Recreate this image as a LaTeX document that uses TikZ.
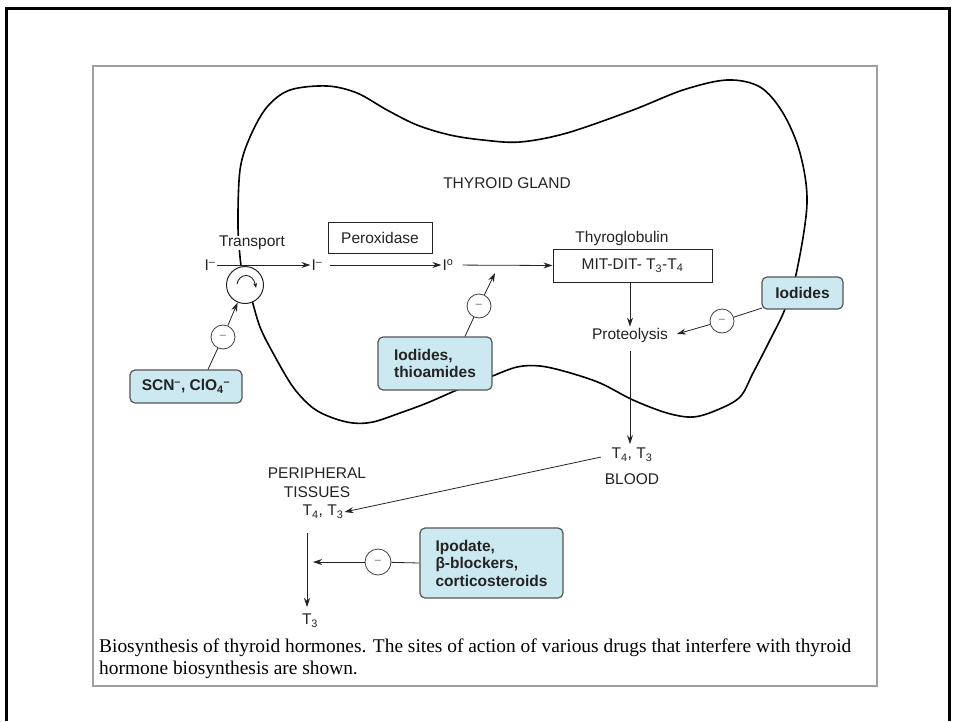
\documentclass[tikz,border=0pt]{standalone}
\usepackage{fontspec}
\setmainfont{Liberation Sans}
\newfontfamily\capfont{Liberation Serif}
\usetikzlibrary{arrows.meta}
\definecolor{boxblue}{RGB}{204,232,240}
\definecolor{edgegray}{RGB}{85,85,85}
\definecolor{framegray}{RGB}{160,160,160}
\definecolor{ink}{RGB}{35,35,35}
\begin{document}
\begin{tikzpicture}[x=1pt,y=-1pt,
  lbl/.style={font=\fontsize{15.5}{19}\selectfont, inner sep=1pt, text=ink},
  drug/.style={draw=edgegray, line width=1.2pt, fill=boxblue, rounded corners=5pt,
    font=\fontsize{15.5}{17.5}\selectfont\bfseries, align=left, inner sep=0pt, text=ink},
  plainbox/.style={draw=ink, line width=1pt, fill=white, inner sep=0pt, font=\fontsize{15.5}{19}\selectfont, text=ink},
  inh/.style={circle, draw=black!75, fill=white, line width=0.8pt, minimum size=24pt, inner sep=0pt,
    font=\fontsize{11}{11}\selectfont, text=black!60},
  arr/.style={-{Stealth[length=9pt,width=6pt]}, line width=0.8pt, draw=ink},
  ln/.style={line width=0.8pt, draw=ink}]
\useasboundingbox (0,0) rectangle (953,721);
% outer frame
\draw[line width=3pt] (6.5,721) -- (6.5,8.7) -- (949.5,8.7) -- (949.5,721);
% inner frame
\draw[framegray, line width=1.5pt] (93,66) rectangle (877,686);
% thyroid gland outline
\draw[line width=1.6pt] plot[smooth, tension=0.55] coordinates {
 (241,266) (238,227) (240,170) (250,137) (267,107) (290,90) (327,86) (357,93) (387,110)
 (417,125) (450,135) (483,140) (520,142) (567,133) (633,110) (683,90) (727,80) (760,87)
 (783,113) (800,153) (807,203) (797,270) (785,309) (770,340) (753,373) (740,397) (717,410)
 (693,417) (667,413) (633,400) (600,383) (567,372) (540,366) (517,367) (490,377) (457,390)
 (427,403) (400,413) (373,422) (353,423) (333,418) (313,408) (293,387) (273,353) (260,327) (252,300)};
\node[lbl] (gland) at (507,183) {THYROID GLAND};
% transport
\node[lbl, fill=white, inner sep=0.5pt] (transport) at (252,243) {Transport};
\node[circle, draw=ink, line width=1pt, fill=white, minimum size=37pt, inner sep=0pt] (tc) at (245,285) {};
\draw[-{Stealth[length=5pt,width=4pt]}, line width=0.9pt, ink] (237,284) .. controls (239,273) and (253,272) .. (256,288);
\node[lbl] (i1) at (210,265) {I\textsuperscript{–}};
\node[lbl] (i2) at (317,265) {I\textsuperscript{–}};
\node[lbl] (i3) at (448,265) {I\textsuperscript{o}};
\node[plainbox, minimum width=104pt, minimum height=31pt] (perox) at (380,237.5) {Peroxidase};
\node[lbl] (thyrog) at (622,238) {Thyroglobulin};
\node[plainbox, minimum width=159pt, minimum height=33pt] (mit) at (632.5,265.5) {MIT-DIT- T\textsubscript{3}-T\textsubscript{4}};
\draw[arr] (i1) -- (i2);
\draw[arr, shorten <=6pt] (i2) -- (i3);
\draw[arr, shorten <=8pt] (i3) -- (mit.west);
% proteolysis
\node[lbl] (prot) at (630,335) {Proteolysis};
\draw[arr] (mit.south -| prot) -- (prot.north);
\node[lbl] (t4b) at (632,455) {T\textsubscript{4}, T\textsubscript{3}};
\node[lbl] (blood) at (632,479) {BLOOD};
\draw[arr, shorten <=8pt, shorten >=3pt] (prot.south) -- (prot.south |- t4b.north);
% drug boxes
\node[drug, minimum width=112pt, minimum height=33pt] (scn) at (186,386.5) {SCN\textsuperscript{–}, ClO\textsubscript{4}\textsuperscript{–}};
\node[inh] (c1) at (223,337) {–};
\draw[ln] ([xshift=22pt]scn.north) -- (c1);
\draw[arr] (c1) -- (tc);
\node[drug, minimum width=114pt, minimum height=53pt] (iot) at (435,363.5) {Iodides,\\thioamides};
\node[inh] (c2) at (479,306) {–};
\coordinate (t2) at (495,273);
\draw[ln] ([xshift=30pt]iot.north) -- (c2);
\draw[arr] (c2) -- (t2);
\node[drug, minimum width=81pt, minimum height=32pt] (iod) at (802.5,293) {Iodides};
\node[inh] (c3) at (722,321) {–};
\coordinate (t3) at (677,334);
\draw[ln] (762,308) -- (c3);
\draw[arr] (c3) -- (t3);
% periphery
\node[lbl, align=center] (periph) at (317,483) {PERIPHERAL\\TISSUES};
\node[lbl] (t4p) at (323,512) {T\textsubscript{4}, T\textsubscript{3}};
\draw[arr, shorten <=10pt] (t4b.west) -- (t4p.east);
\node[lbl] (t3p) at (310,621) {T\textsubscript{3}};
\coordinate (vtop) at (307,533);
\coordinate (vbot) at (307,607);
\draw[arr] (vtop) -- (vbot);
\node[drug, minimum width=143pt, minimum height=70pt] (ipo) at (491.5,563) {Ipodate,\\β-blockers,\\corticosteroids};
\node[inh, minimum size=26pt] (c4) at (378,562) {–};
\coordinate (vmid) at (313,562);
\draw[ln] (ipo.west) -- (c4);
\draw[arr] (c4) -- (vmid);
% caption
\node[anchor=north west, font=\capfont\fontsize{19.4}{22}\selectfont, align=left, inner sep=0pt] (cap) at (99,639)
 {Biosynthesis of thyroid hormones. The sites of action of various drugs that interfere with thyroid\\hormone biosynthesis are shown.};
\end{tikzpicture}
\end{document}
